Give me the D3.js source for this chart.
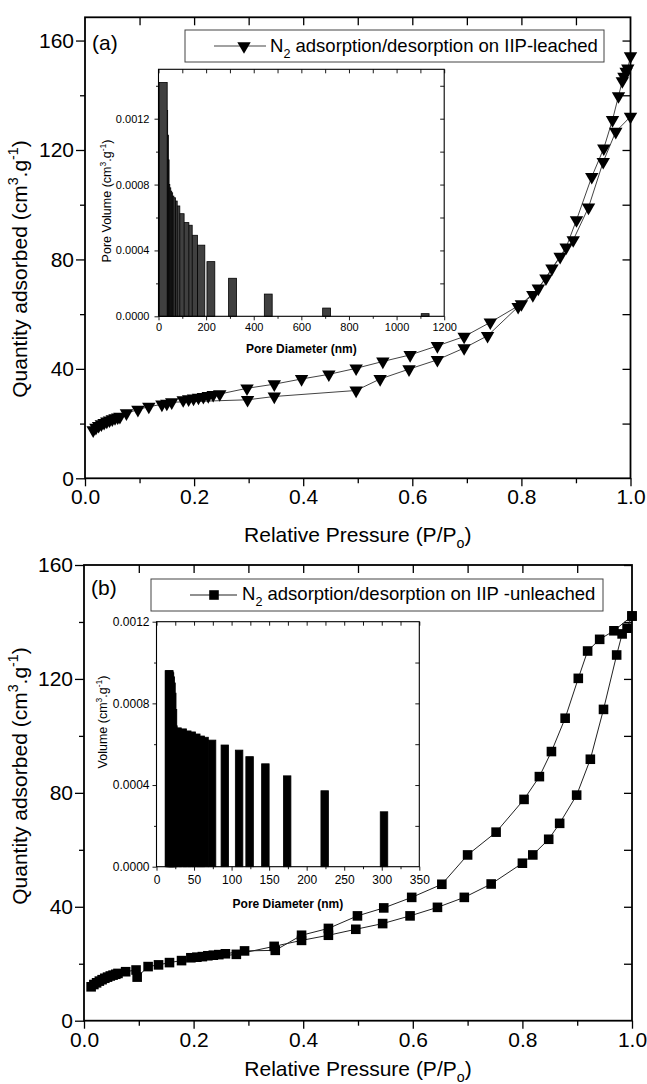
<!DOCTYPE html>
<html>
<head>
<meta charset="utf-8">
<script src="https://cdn.jsdelivr.net/npm/d3@7"></script>
<style>
body { margin: 0; background: #fff; }
svg { display: block; font-family: "Liberation Sans", Arial, sans-serif; }
</style>
</head>
<body>
<svg id="chart" width="647" height="1084"></svg>
<script>
// (a) N2 isotherm on IIP-leached
let leachedAdsP = [0.015, 0.020, 0.025, 0.030, 0.035, 0.040, 0.045, 0.050, 0.055, 0.060, 0.064, 0.076, 0.097, 0.117, 0.141, 0.150, 0.159, 0.298, 0.347, 0.497, 0.541, 0.594, 0.646, 0.695, 0.738, 0.794, 0.821, 0.845, 0.871, 0.895, 0.923, 0.950, 0.973, 1.000]
let leachedAdsQ = [17.6, 18.5, 19.2, 19.8, 20.3, 20.8, 21.2, 21.6, 22.0, 22.3, 22.5, 23.8, 25.1, 26.2, 27.0, 27.3, 27.8, 28.7, 29.9, 32.1, 36.3, 39.9, 43.3, 47.6, 52.1, 62.7, 67.0, 73.1, 81.0, 87.1, 99.0, 115.7, 126.7, 132.2]
let leachedDesP = [1.000, 0.995, 0.992, 0.988, 0.985, 0.978, 0.967, 0.951, 0.929, 0.901, 0.882, 0.856, 0.831, 0.800, 0.743, 0.695, 0.646, 0.596, 0.546, 0.497, 0.447, 0.397, 0.347, 0.297, 0.247, 0.235, 0.226, 0.217, 0.208, 0.199, 0.190, 0.180]
let leachedDesQ = [154.3, 149.8, 148.6, 146.8, 145.2, 139.7, 131.0, 120.6, 110.2, 94.4, 84.4, 76.7, 69.4, 63.7, 57.0, 51.8, 48.4, 45.1, 42.7, 40.2, 38.0, 36.3, 34.4, 32.9, 30.8, 30.5, 30.1, 29.8, 29.5, 29.2, 28.9, 28.6]

// (a) inset: pore size distribution
let leachedDiam = [20, 22, 25, 28, 31, 35, 39, 43, 48, 55, 62, 73, 91, 111, 125, 147, 178, 220, 311, 461, 706, 1120]
let leachedVol = [0.00142, 0.00125, 0.0011, 0.00095, 0.0008, 0.00078, 0.00076, 0.00075, 0.00073, 0.00072, 0.0007, 0.00067, 0.000623, 0.000569, 0.000553, 0.000492, 0.000432, 0.000332, 0.000231, 0.000135, 0.00005, 0.000016]

// (b) N2 isotherm on IIP-unleached
let unleachedAdsP = [0.013, 0.018, 0.023, 0.028, 0.033, 0.038, 0.043, 0.048, 0.053, 0.058, 0.062, 0.076, 0.095, 0.097, 0.117, 0.136, 0.156, 0.178, 0.278, 0.347, 0.397, 0.446, 0.496, 0.545, 0.595, 0.645, 0.694, 0.743, 0.800, 0.819, 0.848, 0.868, 0.899, 0.924, 0.948, 0.972, 0.982, 0.991, 1.000]
let unleachedAdsQ = [11.9, 12.7, 13.3, 13.9, 14.4, 14.9, 15.3, 15.7, 16.0, 16.3, 16.6, 17.2, 17.8, 15.3, 19.0, 19.6, 20.4, 21.1, 23.3, 26.1, 28.2, 30.0, 32.1, 34.1, 36.8, 39.8, 43.3, 48.0, 55.3, 58.2, 63.7, 69.3, 79.2, 91.8, 109.3, 128.4, 135.8, 137.8, 142.1]
let unleachedDesP = [1.000, 0.967, 0.941, 0.919, 0.902, 0.878, 0.853, 0.831, 0.803, 0.752, 0.700, 0.653, 0.598, 0.547, 0.499, 0.446, 0.397, 0.349, 0.293, 0.258, 0.246, 0.236, 0.226, 0.216, 0.206, 0.195]
let unleachedDesQ = [142.1, 136.9, 133.9, 129.8, 120.2, 106.2, 94.5, 85.7, 77.7, 66.2, 58.2, 47.9, 43.3, 39.6, 36.8, 32.4, 30.0, 24.7, 24.5, 23.5, 23.2, 23.0, 22.8, 22.5, 22.3, 22.1]

// (b) inset
let unleachedDiam = [16.5, 17.2, 18, 19, 20, 21, 22, 22.5, 28, 35, 41, 47, 53, 59, 64, 74, 91, 110, 124, 145, 174, 224, 303]
let unleachedVol = [0.00096, 0.00096, 0.00095, 0.00093, 0.0009, 0.00085, 0.00077, 0.00069, 0.00068, 0.000675, 0.000665, 0.00066, 0.00065, 0.00064, 0.000634, 0.00062, 0.000596, 0.000571, 0.000539, 0.000504, 0.000445, 0.000372, 0.000269]

// tick labels
let pressureTicks = [0, 0.2, 0.4, 0.6, 0.8, 1.0]
let quantityTicks = [0, 40, 80, 120, 160]
let leachedDiamTicks = [0, 200, 400, 600, 800, 1000, 1200]
let unleachedDiamTicks = [0, 50, 100, 150, 200, 250, 300, 350]
let volumeTicks = [0, 0.0004, 0.0008, 0.0012]

let svg = d3.select('#chart')
svg.append('rect').attr('width', 647).attr('height', 1084).attr('fill', '#fff')

let zip = (a, b) => a.map((v, i) => [v, b[i]])

// text with sub/superscripts: parts = [[text, 'sub'|'sup'|null], ...]
let rich = (t, parts, size) => {
    let shift = 0
    parts.forEach(p => {
        let s = t.append('tspan').text(p[0])
        let want = p[1] === 'sup' ? -size * 0.42 : p[1] === 'sub' ? size * 0.3 : 0
        s.attr('dy', want - shift)
        if (p[1]) s.attr('font-size', size * 0.68)
        shift = want
    })
}

let styleAxis = (g, size) => {
    g.attr('font-family', null).attr('font-size', size)
    g.select('.domain').remove()
    g.selectAll('line').attr('stroke', '#000').attr('stroke-width', 1.3)
}

let drawMain = (o) => {
    let x = d3.scaleLinear().domain([0, 1]).range([o.left, o.right])
    let y = d3.scaleLinear().domain([0, o.ymax]).range([o.bottom, o.top])
    let g = svg.append('g')
    let minorX = d3.range(0.1, 1, 0.2)
    let minorY = [20, 60, 100, 140]

    g.append('g').attr('transform', `translate(0,${o.bottom})`)
        .call(d3.axisBottom(x).tickValues(pressureTicks).tickSize(8).tickPadding(3).tickFormat(d3.format('.1f')))
        .call(a => styleAxis(a, 21))
    g.append('g').attr('transform', `translate(0,${o.bottom})`)
        .call(d3.axisBottom(x).tickValues(minorX).tickSize(5).tickFormat(''))
        .call(a => styleAxis(a, 21))
    g.append('g').attr('transform', `translate(${o.left},0)`)
        .call(d3.axisLeft(y).tickValues(quantityTicks).tickSize(9).tickPadding(2))
        .call(a => styleAxis(a, 21))
    g.append('g').attr('transform', `translate(${o.left},0)`)
        .call(d3.axisLeft(y).tickValues(minorY).tickSize(5).tickFormat(''))
        .call(a => styleAxis(a, 21))
    g.append('g').attr('transform', `translate(0,${o.top})`)
        .call(d3.axisTop(x).tickValues(d3.range(0.1, 1, 0.1)).tickSize(-8).tickFormat(''))
        .call(a => styleAxis(a, 21))
    g.append('g').attr('transform', `translate(${o.right},0)`)
        .call(d3.axisRight(y).tickValues(d3.range(20, 161, 20)).tickSize(-8).tickFormat(''))
        .call(a => styleAxis(a, 21))

    g.append('rect').attr('x', o.left).attr('y', o.top)
        .attr('width', o.right - o.left).attr('height', o.bottom - o.top)
        .attr('fill', 'none').attr('stroke', '#000').attr('stroke-width', 1.8)

    // axis titles
    let xt = g.append('text').attr('x', (o.left + o.right) / 2).attr('y', o.xTitleY)
        .attr('text-anchor', 'middle').attr('font-size', 21)
    rich(xt, [['Relative Pressure (P/P', null], ['o', 'sub'], [')', null]], 21)
    let yt = g.append('text').attr('transform', `translate(27,${o.yTitleY}) rotate(-90)`)
        .attr('text-anchor', 'middle').attr('font-size', 21)
    rich(yt, [['Quantity adsorbed (cm', null], ['3', 'sup'], ['.g', null], ['-1', 'sup'], [')', null]], 21)

    g.append('text').attr('x', o.left + 7).attr('y', o.labelY).attr('font-size', 21).text(o.label)

    // branches
    let line = d3.line().x(d => x(d[0])).y(d => y(d[1]))
    let sym = d3.symbol().type(o.symbol).size(o.symbolSize)
    o.series.forEach(s => {
        g.append('path').attr('d', line(s)).attr('fill', 'none')
            .attr('stroke', o.lineColor).attr('stroke-width', 1)
    })
    o.series.forEach(s => {
        g.selectAll(null).data(s).enter().append('path')
            .attr('d', sym)
            .attr('transform', d => `translate(${x(d[0])},${y(d[1])})` + (o.flip ? ' rotate(180)' : ''))
            .attr('fill', '#000')
    })

    // legend
    let L = o.legend
    g.append('rect').attr('x', L.x0).attr('y', L.y0).attr('width', L.x1 - L.x0).attr('height', L.y1 - L.y0)
        .attr('fill', '#fff').attr('stroke', '#444').attr('stroke-width', 1)
    g.append('line').attr('x1', L.lx0).attr('x2', L.lx1).attr('y1', L.my).attr('y2', L.my)
        .attr('stroke', o.lineColor).attr('stroke-width', 1.2)
    g.append('path').attr('d', sym)
        .attr('transform', `translate(${L.mx},${L.my})` + (o.flip ? ' rotate(180)' : ''))
        .attr('fill', '#000')
    let lt = g.append('text').attr('x', L.tx).attr('y', L.ty).attr('font-size', 18.5)
    rich(lt, [['N', null], ['2', 'sub'], [' ' + L.text, null]], 18.5)
}

let drawInset = (o) => {
    let x = d3.scaleLinear().domain([0, o.xmax]).range([o.left, o.right])
    let y = d3.scaleLinear().domain([0, o.ymax]).range([o.bottom, o.top])
    let g = svg.append('g')
    g.append('rect').attr('x', o.left).attr('y', o.top)
        .attr('width', o.right - o.left).attr('height', o.bottom - o.top).attr('fill', '#fff')

    // draw larger diameters first so the small ones sit on top
    let bars = zip(o.diam, o.vol).reverse()
    g.selectAll(null).data(bars).enter().append('rect')
        .attr('x', d => x(d[0] - o.barW / 2))
        .attr('width', x(o.barW) - x(0))
        .attr('y', d => y(d[1]))
        .attr('height', d => y(0) - y(d[1]))
        .attr('fill', o.fill).attr('stroke', '#000').attr('stroke-width', 0.8)

    g.append('g').attr('transform', `translate(0,${o.bottom})`)
        .call(d3.axisBottom(x).tickValues(o.xTicks).tickSize(4).tickPadding(o.xPad).tickFormat(d3.format('d')))
        .call(a => styleAxis(a, o.fs))
    g.append('g').attr('transform', `translate(0,${o.bottom})`)
        .call(d3.axisBottom(x).tickValues(o.xMinor).tickSize(2.5).tickFormat(''))
        .call(a => styleAxis(a, o.fs))
    g.append('g').attr('transform', `translate(${o.left},0)`)
        .call(d3.axisLeft(y).tickValues(volumeTicks).tickSize(4).tickPadding(o.yPad).tickFormat(d3.format('.4f')))
        .call(a => styleAxis(a, o.fs))
    g.append('g').attr('transform', `translate(${o.left},0)`)
        .call(d3.axisLeft(y).tickValues([0.0002, 0.0006, 0.001, 0.0014].filter(v => v < o.ymax)).tickSize(2.5).tickFormat(''))
        .call(a => styleAxis(a, o.fs))
    g.append('g').attr('transform', `translate(0,${o.top})`)
        .call(d3.axisTop(x).tickValues(o.xTicks.concat(o.xMinor)).tickSize(-4).tickFormat(''))
        .call(a => styleAxis(a, o.fs))
    g.append('g').attr('transform', `translate(${o.right},0)`)
        .call(d3.axisRight(y).tickValues(d3.range(0.0002, o.ymax, 0.0002)).tickSize(-4).tickFormat(''))
        .call(a => styleAxis(a, o.fs))
    g.selectAll('g line').attr('stroke-width', 0.9)

    g.append('rect').attr('x', o.left).attr('y', o.top)
        .attr('width', o.right - o.left).attr('height', o.bottom - o.top)
        .attr('fill', 'none').attr('stroke', '#000').attr('stroke-width', 1.1)

    g.append('text').attr('x', (o.left + o.right) / 2).attr('y', o.xTitleY)
        .attr('text-anchor', 'middle').attr('font-size', 12).attr('font-weight', 'bold')
        .text('Pore Diameter (nm)')
    let yt = g.append('text').attr('transform', `translate(${o.yTitleX},${o.yTitleY}) rotate(-90)`)
        .attr('text-anchor', 'middle').attr('font-size', 12.5)
    rich(yt, [[o.yTitle, null], ['3', 'sup'], ['.g', null], ['-1', 'sup'], [')', null]], 12.5)
}

drawMain({
    left: 85, right: 630.5, top: 17.3, bottom: 478.3, ymax: 168.5,
    xTitleY: 542, yTitleY: 269, label: '(a)', labelY: 50,
    symbol: d3.symbolTriangle, symbolSize: 78, flip: true, lineColor: '#444',
    series: [zip(leachedAdsP, leachedAdsQ), zip(leachedDesP, leachedDesQ)],
    legend: { x0: 185, x1: 604, y0: 30, y1: 62, lx0: 214, lx1: 266, mx: 244, my: 46, tx: 270, ty: 52,
        text: 'adsorption/desorption on IIP-leached' }
})

drawInset({
    left: 158.5, right: 444.2, top: 69.3, bottom: 316.3, xmax: 1200, ymax: 0.0015,
    diam: leachedDiam, vol: leachedVol, barW: 33, fill: '#404040',
    xTicks: leachedDiamTicks, xMinor: d3.range(100, 1200, 200), fs: 11, xPad: 3, yPad: 5,
    xTitleY: 353, yTitleX: 111, yTitleY: 201, yTitle: 'Pore Volume (cm'
})

drawMain({
    left: 84, right: 632, top: 565, bottom: 1020.7, ymax: 160,
    xTitleY: 1076, yTitleY: 776, label: '(b)', labelY: 595,
    symbol: d3.symbolSquare, symbolSize: 92, flip: false, lineColor: '#222',
    series: [zip(unleachedAdsP, unleachedAdsQ), zip(unleachedDesP, unleachedDesQ)],
    legend: { x0: 151, x1: 603, y0: 579, y1: 611, lx0: 190, lx1: 237, mx: 214, my: 595, tx: 242, ty: 600,
        text: 'adsorption/desorption on IIP -unleached' }
})

drawInset({
    left: 156.5, right: 419.3, top: 621.7, bottom: 866.7, xmax: 350, ymax: 0.0012,
    diam: unleachedDiam, vol: unleachedVol, barW: 10, fill: '#000',
    xTicks: unleachedDiamTicks, xMinor: d3.range(25, 350, 50), fs: 12, xPad: 5, yPad: 3,
    xTitleY: 908, yTitleX: 107, yTitleY: 722, yTitle: 'Volume (cm'
})
</script>
</body>
</html>
